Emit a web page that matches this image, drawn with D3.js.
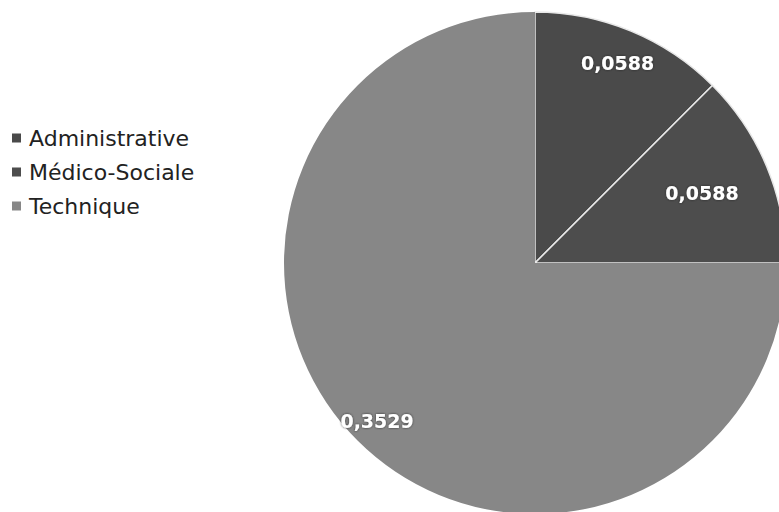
<!DOCTYPE html>
<html><head><meta charset="utf-8">
<script src="https://cdn.jsdelivr.net/npm/d3@7"></script>
<style>body{margin:0;background:#fff}svg{display:block}</style>
</head><body>
<svg id="chart" width="779" height="512"></svg>
<script>
const categories = ["Administrative", "Médico-Sociale", "Technique"];
const values = [0.0588, 0.0588, 0.3529];
const labels = ["0,0588", "0,0588", "0,3529"];
const colors = ["#4a4a4a", "#4d4d4d", "#878787"];

const svg = d3.select("#chart");
const cx = 535, cy = 263, R = 251;
const g = svg.append("g").attr("transform", `translate(${cx},${cy})`);

const pie = d3.pie().sort(null).value(d => d)(values);
const arc = d3.arc().innerRadius(0).outerRadius(R);
const labelFactor = [0.86, 0.72, 0.89];

g.selectAll("path.slice").data(pie).enter().append("path")
  .attr("class", "slice")
  .attr("d", arc)
  .attr("fill", (d, i) => colors[i])
  .attr("stroke", (d, i) => i === 2 ? "none" : "#e8e8e8")
  .attr("stroke-width", 1.5);

const shadow = svg.append("defs").append("filter").attr("id", "sh")
  .attr("x", "-20%").attr("y", "-20%").attr("width", "140%").attr("height", "140%");
shadow.append("feDropShadow").attr("dx", 0).attr("dy", 0).attr("stdDeviation", 1.3)
  .attr("flood-color", "#222").attr("flood-opacity", 0.9);

g.selectAll("text.lbl").data(pie).enter().append("text")
  .attr("class", "lbl")
  .attr("transform", (d, i) => {
    const la = d3.arc().innerRadius(0).outerRadius(2 * R * labelFactor[i]);
    const c = la.centroid(d);
    return `translate(${c[0]},${c[1]})`;
  })
  .attr("text-anchor", "middle")
  .attr("dy", "0.35em")
  .attr("fill", "#fff")
  .attr("filter", "url(#sh)")
  .style("font-family", "'DejaVu Sans', Verdana, sans-serif")
  .style("font-weight", "bold")
  .style("font-size", "19px")
  .text((d, i) => labels[i]);

const leg = svg.append("g").attr("transform", "translate(12,138)");
const rows = leg.selectAll("g").data(categories).enter().append("g")
  .attr("transform", (d, i) => `translate(0,${i * 34})`);
rows.append("rect").attr("x", 0).attr("y", -4.5).attr("width", 9).attr("height", 9)
  .attr("fill", (d, i) => colors[i]);
rows.append("text").attr("x", 17).attr("dy", "0.35em")
  .attr("fill", "#222")
  .style("font-family", "'DejaVu Sans', Verdana, sans-serif")
  .style("font-size", "22px")
  .text(d => d);
</script>
</body></html>
